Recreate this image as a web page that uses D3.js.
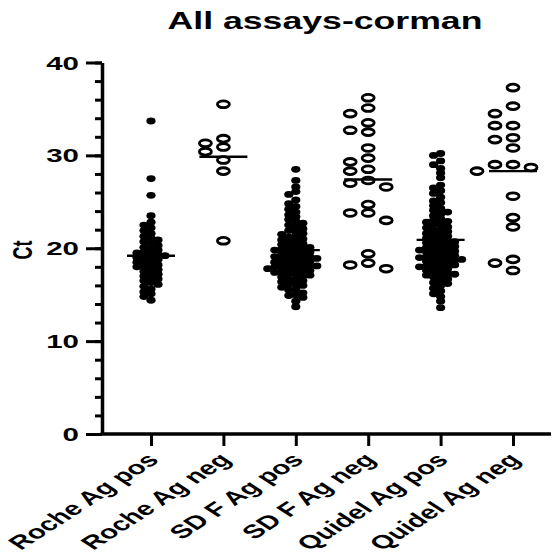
<!DOCTYPE html>
<html>
<head>
<meta charset="utf-8">
<title>All assays-corman</title>
<script src="https://cdnjs.cloudflare.com/ajax/libs/d3/7.8.5/d3.min.js"></script>
<style>
  body { margin: 0; background: #fff; }
  text { font-family: "Liberation Sans", Arial, sans-serif; fill: #000; }
</style>
</head>
<body>
<script>

// groups, left to right
var categories = ["Roche Ag pos", "Roche Ag neg", "SD F Ag pos", "SD F Ag neg", "Quidel Ag pos", "Quidel Ag neg"];

// Ct values
var rochePos = [33.7, 27.5, 25.7, 23.5,
  22.8, 22.5, 22.2,
  21.9, 21.6, 21.3, 21.1,
  20.9, 20.7, 20.5, 20.3, 20.1,
  19.9, 19.8, 19.6, 19.5, 19.4, 19.3, 19.2, 19.1, 19.0,
  18.9, 18.8, 18.6, 18.5, 18.4, 18.2, 18.1, 18.0,
  17.9, 17.7, 17.5, 17.4, 17.2, 17.0,
  16.9, 16.7, 16.5, 16.3, 16.1,
  15.9, 15.6, 15.3, 15.1,
  14.8, 14.4];

var rocheNeg = [35.5, 31.8, 30.9, 31.3, 30.4, 29.5, 28.3, 20.8];

var sdPos = [28.5, 27.3, 26.6, 26.1, 25.8, 25.2,
  24.8, 24.5, 24.2,
  23.9, 23.6, 23.4, 23.1,
  22.9, 22.7, 22.5, 22.3, 22.1,
  21.9, 21.8, 21.6, 21.5, 21.3, 21.2, 21.0,
  20.9, 20.8, 20.7, 20.5, 20.4, 20.3, 20.2, 20.1, 20.0,
  19.9, 19.8, 19.8, 19.7, 19.6, 19.5, 19.4, 19.3, 19.2, 19.1, 19.1, 19.0,
  18.9, 18.9, 18.8, 18.7, 18.6, 18.5, 18.5, 18.4, 18.3, 18.2, 18.1, 18.1, 18.0, 18.0,
  17.9, 17.8, 17.8, 17.7, 17.6, 17.5, 17.4, 17.4, 17.3, 17.2, 17.1, 17.0,
  16.9, 16.7, 16.6, 16.5, 16.4, 16.2, 16.1, 16.0,
  15.8, 15.6, 15.5, 15.2, 15.0,
  14.9, 14.7, 14.3,
  13.7];

var sdNeg = [36.2, 35.1, 34.5, 33.5, 32.5, 32.7, 30.8, 29.7, 29.3, 28.3, 28.5,
  27.0, 26.6, 27.3, 24.7, 23.8, 23.0, 23.8, 19.4, 18.4, 17.8, 18.2];

var quidelPos = [30.2, 30.0, 29.4, 29.0, 28.6, 28.1, 27.6,
  26.8, 26.5, 26.2,
  25.9, 25.5, 25.1,
  24.9, 24.6, 24.3, 24.1,
  23.9, 23.7, 23.5, 23.2, 23.0,
  22.9, 22.8, 22.6, 22.5, 22.3, 22.2, 22.0,
  21.9, 21.8, 21.6, 21.5, 21.4, 21.3, 21.1, 21.0,
  20.9, 20.8, 20.7, 20.6, 20.5, 20.4, 20.3, 20.2, 20.1, 20.0,
  19.9, 19.8, 19.8, 19.7, 19.6, 19.5, 19.4, 19.3, 19.2, 19.1, 19.0, 19.0,
  18.9, 18.8, 18.8, 18.7, 18.6, 18.5, 18.4, 18.3, 18.2, 18.1, 18.0, 18.0,
  17.9, 17.8, 17.6, 17.5, 17.4, 17.3, 17.2, 17.1, 17.0,
  16.9, 16.7, 16.5, 16.3, 16.2, 16.0,
  15.7, 15.4, 15.1,
  14.8, 14.3,
  13.6];

var quidelNeg = [37.3, 35.3, 34.5, 33.2, 33.2, 31.7, 31.9, 30.8, 28.7, 28.3, 29.0, 29.0,
  25.6, 23.3, 22.3, 18.8, 18.4, 17.6];

var groupValues = [rochePos, rocheNeg, sdPos, sdNeg, quidelPos, quidelNeg];
var means = [19.2, 29.85, 19.8, 27.4, 20.9, 28.3];
var filledGroup = [true, false, true, false, true, false];

var yTicks = [0, 10, 20, 30, 40];
var yMinor = d3.range(0, 41, 2);

var width = 556, height = 559;
var sx = 1.55; // the picture is stretched sideways

var svg = d3.select("body").append("svg")
  .attr("width", width)
  .attr("height", height);

var y = d3.scaleLinear().domain([0, 40]).range([434, 62.5]);
var x = d3.scalePoint().domain(categories).range([151, 513]);

// title
svg.append("text")
  .attr("transform", "translate(325,29) scale(" + sx + ",1)")
  .attr("text-anchor", "middle")
  .style("font-size", "23px")
  .style("font-weight", "bold")
  .text("All assays-corman");

// y axis label
svg.append("text")
  .attr("transform", "translate(32,250) scale(" + sx + ",1) rotate(-90)")
  .attr("text-anchor", "middle")
  .style("font-size", "18px")
  .style("font-weight", "bold")
  .text("Ct");

// y axis: minor ticks, major ticks, line
var yAxis = svg.append("g").attr("transform", "translate(102,0)");
yAxis.append("g")
  .call(d3.axisLeft(y).tickValues(yMinor).tickSize(7).tickSizeOuter(0).tickFormat(""))
  .call(function(g) { g.select(".domain").remove(); });
yAxis.append("g")
  .call(d3.axisLeft(y).tickValues(yTicks).tickSize(16).tickSizeOuter(0).tickFormat(""));
yAxis.selectAll("line").attr("stroke", "#000").attr("stroke-width", 3);
yAxis.selectAll(".domain").attr("stroke", "#000").attr("stroke-width", 3.5);

svg.selectAll(".ylab")
  .data(yTicks)
  .enter().append("text")
  .attr("class", "ylab")
  .attr("transform", function(d) { return "translate(79," + (y(d) + 7) + ") scale(" + sx + ",1)"; })
  .attr("text-anchor", "end")
  .style("font-size", "19px")
  .style("font-weight", "bold")
  .text(function(d) { return d; });

// x axis
svg.append("line")
  .attr("x1", 100.5).attr("x2", 551)
  .attr("y1", y(0)).attr("y2", y(0))
  .attr("stroke", "#000").attr("stroke-width", 3.5);

var xAxis = svg.append("g")
  .attr("transform", "translate(0," + y(0) + ")")
  .call(d3.axisBottom(x).tickSize(12).tickSizeOuter(0).tickFormat(""));
xAxis.select(".domain").remove();
xAxis.selectAll("line").attr("stroke", "#000").attr("stroke-width", 3);

svg.selectAll(".xlab")
  .data(categories)
  .enter().append("text")
  .attr("class", "xlab")
  .attr("transform", function(d) { return "translate(" + (x(d) + 9) + ",461) scale(" + sx + ",1) rotate(-45)"; })
  .attr("text-anchor", "end")
  .style("font-size", "19px")
  .style("font-weight", "bold")
  .text(function(d) { return d; });

// scatter: simple beeswarm so equal values spread sideways
function swarm(values, cx, filled) {
  var wx = filled ? 7 : 15,   // min centre distance sideways
      wy = filled ? 4.6 : 8,  // min centre distance up/down
      step = filled ? 3.5 : 18;
  var placed = [];
  values.slice().sort(function(a, b) { return b - a; }).forEach(function(v) {
    var py = y(v);
    for (var k = 0; k < 60; k++) {
      var off = k === 0 ? 0 : (k % 2 ? -1 : 1) * Math.ceil(k / 2) * step;
      var hit = placed.some(function(p) {
        var dx = (p.x - (cx + off)) / wx, dy = (p.y - py) / wy;
        return dx * dx + dy * dy < 1;
      });
      if (!hit) { placed.push({ x: cx + off, y: py, v: v }); break; }
    }
  });
  return placed;
}

categories.forEach(function(c, i) {
  var pts = swarm(groupValues[i], x(c), filledGroup[i]);
  var g = svg.append("g");
  if (filledGroup[i]) {
    g.selectAll("ellipse").data(pts).enter().append("ellipse")
      .attr("cx", function(d) { return d.x; })
      .attr("cy", function(d) { return d.y; })
      .attr("rx", 4.6).attr("ry", 3.4)
      .attr("fill", "#000");
  } else {
    g.selectAll("ellipse").data(pts).enter().append("ellipse")
      .attr("cx", function(d) { return d.x; })
      .attr("cy", function(d) { return d.y; })
      .attr("rx", 6).attr("ry", 3.4)
      .attr("fill", "#fff")
      .attr("stroke", "#000")
      .attr("stroke-width", 2.8);
  }
  // mean line
  svg.append("line")
    .attr("x1", x(c) - 24).attr("x2", x(c) + 24)
    .attr("y1", y(means[i])).attr("y2", y(means[i]))
    .attr("stroke", "#000").attr("stroke-width", 2.4);
});

</script>
</body>
</html>
